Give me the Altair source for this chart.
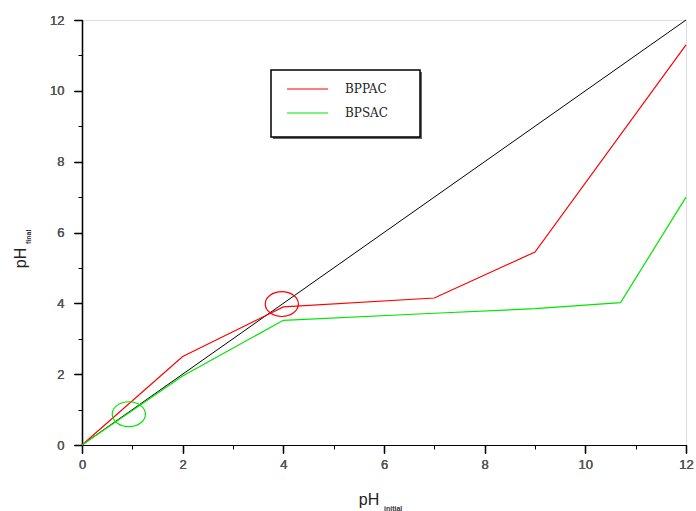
import altair as alt
import pandas as pd

# ---- data ----
series_names = ["BPPAC", "BPSAC"]
series_colors = ["#ff0000", "#00e600"]

bppac_x = [0, 2, 4, 7, 9, 12]
bppac_y = [0, 2.5, 3.9, 4.15, 5.45, 11.3]

bpsac_x = [0, 2, 4, 7, 9, 10.7, 12]
bpsac_y = [0, 1.95, 3.52, 3.72, 3.85, 4.02, 7.0]

ref_x = [0, 12]
ref_y = [0, 12]

# annotation ellipses (centre in data units)
ellipse_x = [0.93, 3.97]
ellipse_y = [0.87, 3.98]
ellipse_series = ["BPSAC", "BPPAC"]

major_ticks = [0, 2, 4, 6, 8, 10, 12]
minor_ticks = [1, 3, 5, 7, 9, 11]

W, H = 604, 425

lines = pd.DataFrame(
    {"x": bppac_x + bpsac_x,
     "y": bppac_y + bpsac_y,
     "s": [series_names[0]] * len(bppac_x) + [series_names[1]] * len(bpsac_x)}
)
ref = pd.DataFrame({"x": ref_x, "y": ref_y})
ell = pd.DataFrame({"x": ellipse_x, "y": ellipse_y, "s": ellipse_series})

xs = alt.Scale(domain=[0, 12], nice=False, zero=False)
ys = alt.Scale(domain=[0, 12], nice=False, zero=False)
cs = alt.Scale(domain=series_names, range=series_colors)

ax_common = dict(domainColor="#000000", tickColor="#000000", grid=False,
                 labelFont="Liberation Sans", labelFontSize=13, labelColor="#555555",
                 labelFontWeight="normal", labelFlush=False, labelOverlap=False,
                 domainWidth=1.2, tickWidth=1.2, title=None)

x_major = alt.Axis(values=major_ticks, orient="bottom", tickSize=8, labelPadding=5,
                   format="d", **ax_common)
y_major = alt.Axis(values=major_ticks, orient="left", tickSize=8, labelPadding=10,
                   format="d", **ax_common)
x_minor = alt.Axis(values=minor_ticks, orient="bottom", tickSize=4, labels=False,
                   domain=False, tickColor="#000000", grid=False, title=None)
y_minor = alt.Axis(values=minor_ticks, orient="left", tickSize=4, labels=False,
                   domain=False, tickColor="#000000", grid=False, title=None)

black = alt.Chart(ref).mark_line(color="#000000", strokeWidth=1).encode(
    x=alt.X("x:Q", scale=xs, axis=x_major),
    y=alt.Y("y:Q", scale=ys, axis=y_major),
)

minor = alt.Chart(ref).mark_line(opacity=0).encode(
    x=alt.X("x:Q", scale=xs, axis=x_minor),
    y=alt.Y("y:Q", scale=ys, axis=y_minor),
)

colored = alt.Chart(lines).mark_line(strokeWidth=1.2).encode(
    x=alt.X("x:Q", scale=xs, axis=x_major),
    y=alt.Y("y:Q", scale=ys, axis=y_major),
    color=alt.Color("s:N", scale=cs, legend=None),
    detail="s:N",
)

ellipse_path = "M -1 0 A 1 0.75 0 1 1 1 0 A 1 0.75 0 1 1 -1 0 Z"
ellipses = alt.Chart(ell).mark_point(shape=ellipse_path, size=1100, filled=False,
                                     strokeWidth=1.2, opacity=1).encode(
    x=alt.X("x:Q", scale=xs, axis=x_major),
    y=alt.Y("y:Q", scale=ys, axis=y_major),
    color=alt.Color("s:N", scale=cs, legend=None),
)

one = alt.Data(values=[{}])

# manual legend box (with slight shadow like the reference)
leg_shadow = alt.Chart(one).mark_rect(fill="#666666").encode(
    x=alt.value(191), x2=alt.value(340), y=alt.value(52), y2=alt.value(119))
leg_box = alt.Chart(one).mark_rect(fill="white", stroke="#000000", strokeWidth=1.5).encode(
    x=alt.value(189), x2=alt.value(338), y=alt.value(50), y2=alt.value(117))
leg_layers = [leg_shadow, leg_box]
for i, (name, col) in enumerate(zip(series_names, series_colors)):
    yy = 69 + 24 * i
    leg_layers.append(alt.Chart(one).mark_rule(color=col, strokeWidth=1.2).encode(
        x=alt.value(205), x2=alt.value(246), y=alt.value(yy)))
    leg_layers.append(alt.Chart(one).mark_text(
        text=name, align="left", baseline="middle", font="DejaVu Serif",
        fontSize=12, color="#222222").encode(x=alt.value(263), y=alt.value(yy)))

# axis titles with subscripts
titles = [
    alt.Chart(one).mark_text(text="pH", font="Liberation Sans", fontSize=16,
                             align="center", baseline="middle", color="#222222").encode(
        x=alt.value(287), y=alt.value(480)),
    alt.Chart(one).mark_text(text="initial", font="Liberation Sans", fontSize=7,
                             fontWeight="bold", align="left", baseline="middle",
                             color="#333333").encode(x=alt.value(302), y=alt.value(489)),
    alt.Chart(one).mark_text(text="pH", font="Liberation Sans", fontSize=16, angle=270,
                             align="center", baseline="middle", color="#222222").encode(
        x=alt.value(-61), y=alt.value(238)),
    alt.Chart(one).mark_text(text="final", font="Liberation Sans", fontSize=7,
                             fontWeight="bold", angle=270, align="left",
                             baseline="middle", color="#333333").encode(
        x=alt.value(-53), y=alt.value(224)),
]

chart = alt.layer(black, minor, colored, ellipses, *leg_layers, *titles).resolve_axis(
    x="independent", y="independent"
).properties(
    width=W, height=H,
    autosize=alt.AutoSizeParams(type="none"),
    padding={"left": 82, "top": 20, "right": 10, "bottom": 66},
).configure_view(stroke="#000000", strokeWidth=1.2).configure(background="white")

chart.save("out.html", embed_options={"renderer": "svg", "actions": False})
